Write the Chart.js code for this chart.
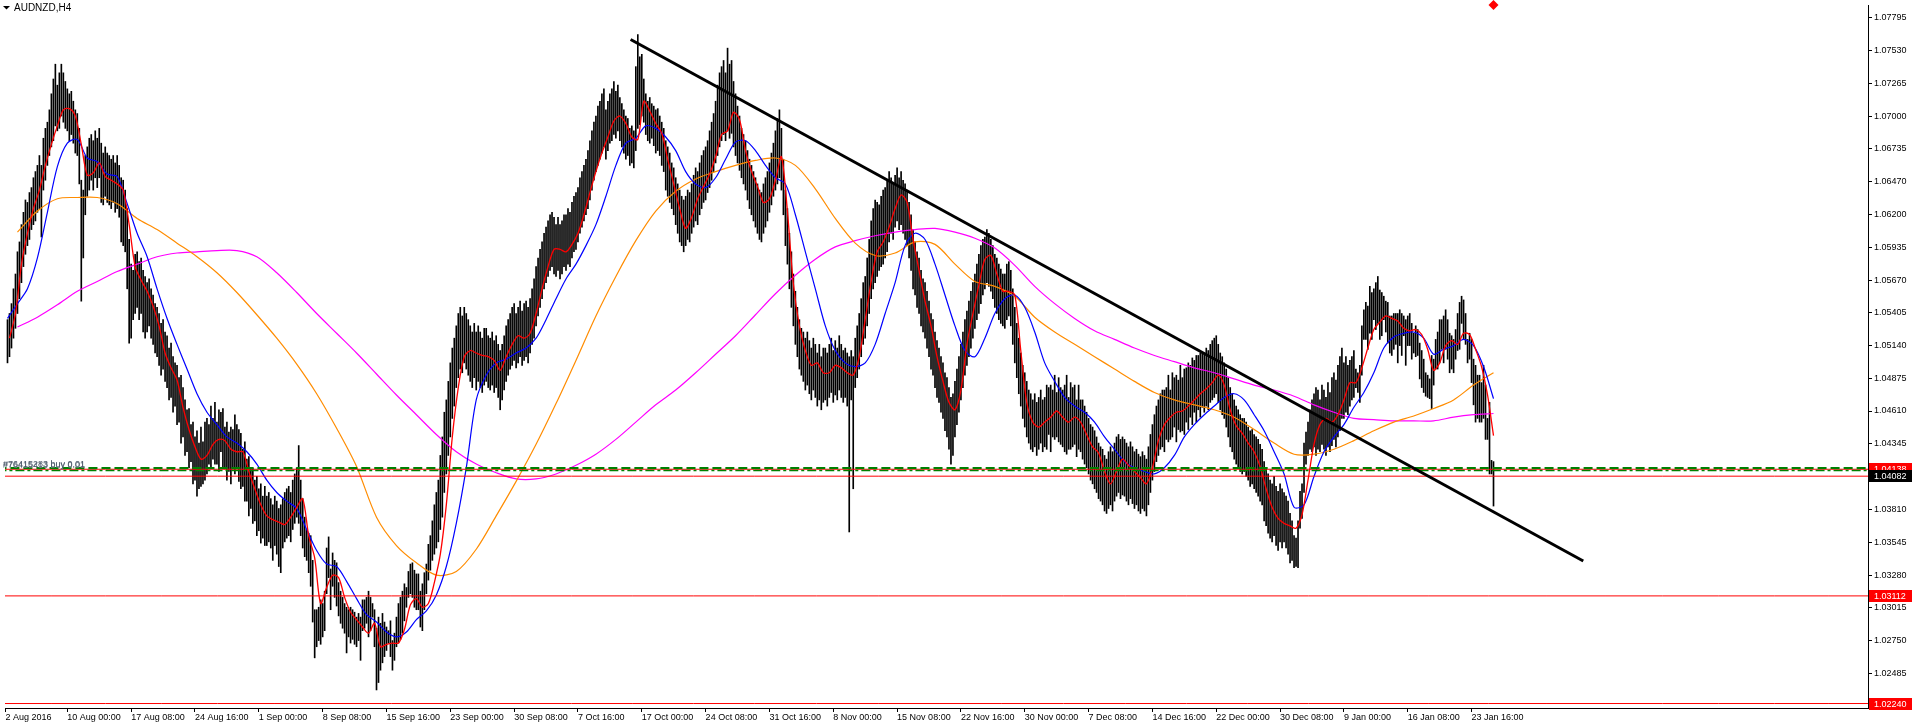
<!DOCTYPE html>
<html>
<head>
<meta charset="utf-8">
<title>AUDNZD,H4</title>
<script src="https://cdn.jsdelivr.net/npm/chart.js@4.4.1/dist/chart.umd.min.js"></script>
<style>
  html, body { margin: 0; padding: 0; background: #fff; overflow: hidden; }
  #wrap { width: 1913px; height: 723px; }
</style>
</head>
<body>
<div id="wrap"><canvas id="priceChart" width="1913" height="723"></canvas></div>
<script>
// AUDNZD H4 bars, values in pips above 1.0000 (512 -> 1.0512), one entry per bar
const lows = [
  500,505,512,520,528,540,552,565,578,588, 595,600,608,612,615,622,625,602,640,648,
  660,668,675,680,692,688,690,700,695,690, 688,680,685,678,670,668,645,550,585,620,
  635,640,648,640,650,642,650,630,628,635, 630,628,625,630,622,625,618,598,595,590,
  560,516,520,535,540,545,535,540,525,520, 525,530,520,515,508,505,498,490,495,485,
  480,470,472,460,465,450,452,435,440,425, 428,415,420,402,405,392,398,400,402,405,
  410,418,415,422,418,418,412,428,415,414, 405,412,402,414,410,415,404,398,400,388,
  388,376,382,370,372,360,364,354,358,352, 352,355,350,340,352,345,335,330,350,355,
  358,360,355,365,370,375,370,360,350,343, 340,330,319,290,261,270,275,272,278,283,
  313,326,300,319,310,303,295,289,285,281, 265,278,273,276,272,270,275,259,283,285,
  289,278,283,294,270,235,241,251,257,262, 267,273,262,251,259,270,273,276,281,291,
  302,310,313,310,302,300,300,286,283,300, 313,324,332,340,345,350,355,365,375,395,
  410,425,440,455,465,480,488,495,492,500, 495,490,485,480,488,478,485,480,476,482,
  485,480,478,482,476,480,472,462,470,478, 485,490,495,498,502,496,500,505,498,502,
  505,500,508,515,520,530,538,545,552,560, 565,570,575,578,572,570,575,568,572,578,
  575,580,578,585,590,592,598,605,610,615, 620,625,632,640,648,655,660,665,670,675,
  665,672,678,680,685,682,688,680,675,670, 665,668,660,662,658,672,690,693,700,695,
  685,680,678,682,676,670,672,668,660,655, 640,635,630,625,620,612,605,598,595,590,
  595,600,598,605,610,615,612,620,625,630, 632,638,642,648,655,662,668,675,680,685,
  680,688,682,686,675,668,662,656,650,645, 640,632,625,620,615,610,605,600,598,605,
  610,615,622,628,635,640,645,650,640,620, 595,580,560,545,530,515,505,495,490,485,
  478,482,475,470,478,472,465,470,462,468, 470,465,472,476,468,474,470,478,472,468,
  472,465,363,470,398,480,488,495,505,515, 520,530,540,552,560,565,570,575,578,580,
  585,590,598,605,600,610,615,608,612,605, 600,595,585,575,560,555,545,540,530,525,
  520,512,505,495,490,480,472,468,460,455, 445,440,430,418,425,440,450,460,470,480,
  490,498,505,512,520,528,535,540,548,555, 560,565,562,558,552,545,540,535,532,530,
  528,535,538,530,515,500,488,475,465,455, 448,440,435,430,428,432,425,430,435,428,
  432,430,442,428,440,438,440,436,434,432, 428,426,430,430,432,434,424,430,428,422,
  418,415,410,405,402,398,395,390,388,385, 380,378,382,385,380,388,392,395,390,393,
  392,388,385,390,386,382,385,380,378,382, 380,376,385,395,405,412,420,425,430,432,
  428,438,436,438,440,448,436,446,444,445, 442,452,446,456,450,460,452,462,456,464,
  460,465,462,468,470,472,475,468,462,458, 455,448,440,432,428,422,418,415,412,410,
  412,408,405,400,402,398,395,392,388,385, 372,368,362,358,355,360,352,348,355,350,
  355,350,345,338,340,334,335,334,366,374, 395,418,425,430,428,432,425,430,428,434,
  430,425,432,428,433,438,432,440,445,455, 455,460,458,465,470,472,480,476,468,490,
  519,519,511,524,519,535,527,532,519,522, 535,525,516,508,506,511,515,500,514,506,
  522,498,514,514,503,508,505,506,487,480, 476,473,472,471,463,482,495,495,500,511,
  500,511,503,492,495,492,503,510,511,532, 519,515,500,503,484,466,452,455,452,452,
  455,438,438,410,410,384
];
const highs = [
  535,540,548,560,572,590,598,612,622,632, 630,638,642,650,655,660,668,660,682,690,
  695,705,718,730,742,725,735,742,735,728, 722,718,720,712,705,702,690,648,640,668,
  675,682,685,680,688,682,690,678,670,675, 670,668,665,668,662,668,660,650,648,640,
  625,600,580,575,588,590,582,585,575,570, 565,568,560,555,548,545,540,532,535,525,
  522,512,516,505,500,498,488,490,480,470, 462,463,450,452,440,445,435,448,436,452,
  455,450,465,455,468,452,462,460,463,448, 452,444,448,446,458,450,446,443,430,436,
  422,424,414,415,405,408,398,402,392,400, 392,395,390,385,392,388,382,385,390,395,
  398,400,395,405,410,415,433,405,390,375, 365,362,360,340,300,300,302,308,305,315,
  350,359,333,346,340,338,322,315,310,305, 302,300,302,300,298,294,297,294,308,308,
  310,315,310,305,300,285,294,289,297,290, 286,283,291,275,281,294,305,310,315,321,
  318,331,337,338,332,329,329,315,321,330, 337,353,360,372,385,395,405,425,440,460,
  470,485,500,512,520,530,540,545,538,545, 540,535,530,525,532,525,530,525,520,528,
  528,522,520,525,518,522,515,510,515,522, 530,535,540,545,548,540,545,550,542,548,
  550,545,552,560,568,578,585,592,598,605, 610,615,620,622,618,612,618,612,615,620,
  620,625,622,630,635,638,642,650,655,660, 665,672,680,688,695,700,708,712,718,722,
  705,712,718,722,728,720,725,715,710,705, 700,698,690,692,688,740,766,748,750,730,
  718,712,715,710,708,705,706,700,695,690, 680,675,670,662,658,650,645,640,635,632,
  635,640,638,645,652,658,655,662,668,672, 675,680,688,695,702,712,725,735,740,745,
  735,755,742,745,728,718,708,700,690,685, 680,672,665,660,655,650,645,640,638,645,
  650,655,662,670,678,688,698,705,690,665, 640,625,605,590,572,558,545,535,528,525,
  520,525,518,512,520,515,508,515,505,512, 512,508,515,520,510,518,512,522,515,510,
  512,508,505,510,505,520,530,540,552,565, 570,585,600,615,625,632,630,628,635,640,
  642,648,655,650,645,652,658,650,655,648, 645,640,630,620,608,598,590,585,575,568,
  565,558,550,540,535,525,518,512,505,500, 492,488,480,472,475,485,495,505,515,525,
  535,542,550,558,565,572,580,588,595,600, 602,608,605,600,595,588,585,580,576,572,
  572,580,582,575,560,545,532,520,508,498, 492,485,478,475,470,475,468,472,478,470,
  472,482,480,482,478,490,476,488,480,478, 482,490,472,484,480,482,470,482,470,470,
  465,460,455,450,448,445,440,435,432,430, 425,422,428,432,428,435,440,442,438,440,
  438,435,432,436,432,428,430,426,424,428, 425,422,432,442,450,458,465,470,475,478,
  478,480,490,478,492,488,490,486,498,488, 495,496,500,498,504,502,506,506,508,508,
  508,512,510,515,518,520,522,515,508,505, 500,495,488,480,475,470,465,462,458,455,
  455,452,448,445,446,442,440,438,434,430, 420,415,410,405,402,408,400,396,402,398,
  395,392,388,378,372,360,358,372,396,402, 435,444,452,462,470,475,480,478,470,482,
  478,472,484,476,488,492,486,498,505,512, 500,505,498,502,505,510,495,492,498,530,
  543,549,546,562,557,560,565,570,559,557, 554,550,549,538,538,540,540,540,543,540,
  538,535,538,540,532,524,530,527,516,510, 503,492,490,487,506,503,519,525,535,535,
  538,543,535,524,522,519,527,540,549,554, 551,540,519,524,519,503,498,490,490,484,
  498,482,455,468,421,420
];

// moving averages (pips above 1.0000)
// red: one point every 3 bars starting at bar 1
const maRed = [
  520,540,580,605,625,640,660,677,692,705, 706,700,677,652,654,662,651,648,645,640,
  612,578,567,558,546,530,508,496,486,464, 446,432,422,425,434,438,437,430,428,428,
  412,398,385,376,373,371,369,375,383,390, 360,342,305,318,328,326,310,298,292,286,
  281,289,270,272,273,273,284,304,309,302, 305,322,345,385,440,480,505,510,508,506,
  505,502,494,505,515,522,520,524,540,560, 578,592,592,590,596,605,620,638,655,670,
  683,696,700,694,683,681,712,704,694,686, 665,645,625,609,618,633,643,653,667,685,
  688,703,697,672,655,643,630,633,648,667, 623,564,530,510,498,500,492,492,498,496,
  492,490,505,535,566,590,598,610,625,636, 630,600,575,550,530,505,485,468,462,478,
  515,540,563,584,587,572,558,558,555,510, 468,452,448,452,456,461,456,452,456,452,
  442,432,427,412,402,412,422,417,412,407, 402,415,437,450,456,460,461,465,470,475,
  479,484,490,482,462,449,443,435,428,416, 398,383,374,370,368,366,377,405,434,450,
  455,452,458,470,484,484,496,512,527,533, 538,536,534,528,526,527,523,511,494,500,
  514,518,515,524,523,511,497,474,441
];
// blue: every 5 bars from bar 0
const maBlue = [
  536,548,560,585,622,659,678,681,666,663, 653,651,629,605,586,560,536,515,495,475,
  460,450,440,435,428,418,405,395,388,382, 365,348,337,335,323,309,296,290,282,278,
  282,292,299,312,335,370,415,470,490,500, 503,508,512,520,535,552,568,580,595,612,
  635,660,678,682,692,690,683,672,655,645, 642,650,665,679,680,672,660,650,645,620,
  590,560,530,510,500,497,500,515,540,565, 595,605,600,580,555,530,510,505,520,540,
  552,555,545,525,500,485,472,465,460,452, 440,430,420,415,412,410,415,425,440,450,
  458,465,472,475,470,458,445,428,410,383, 385,408,428,440,450,464,476,492,512,521,
  524,525,520,507,511,514,519,514,497,471
];
// orange: every 10 bars from bar 5
const maOrange = [
  606,623,633,634,634,629,617,608,597,586, 573,557,539,520,499,475,447,416,375,352,
  338,328,331,349,376,404,434,467,502,538, 570,599,623,639,649,655,660,664,666,660,
  641,617,597,587,589,598,596,580,566,562, 554,537,525,515,505,495,485,476,470,466,
  462,456,446,435,426,426,430,437,445,452, 457,463,470,482,492
];
// magenta: every 10 bars from bar 5
const maMagenta = [
  529,537,547,558,566,574,580,586,589,590, 591,591,586,573,557,540,524,508,491,474,
  458,442,428,418,411,406,406,410,417,426, 438,452,466,478,492,507,522,539,556,571,
  584,594,599,603,606,608,609,606,601,593, 579,562,548,536,526,519,512,506,501,496,
  492,487,482,478,473,466,460,455,454,453, 453,453,456,458,459
];

const timeLabels = ["2 Aug 2016", "10 Aug 00:00", "17 Aug 08:00", "24 Aug 16:00", "1 Sep 00:00",
  "8 Sep 08:00", "15 Sep 16:00", "23 Sep 00:00", "30 Sep 08:00", "7 Oct 16:00", "17 Oct 00:00",
  "24 Oct 08:00", "31 Oct 16:00", "8 Nov 00:00", "15 Nov 08:00", "22 Nov 16:00", "30 Nov 00:00",
  "7 Dec 08:00", "14 Dec 16:00", "22 Dec 00:00", "30 Dec 08:00", "9 Jan 00:00", "16 Jan 08:00",
  "23 Jan 16:00"];
const timeBars = [-1, 30, 62, 94, 126, 158, 190, 222, 254, 286, 318, 350, 382, 414, 446, 478,
  510, 542, 574, 606, 638, 670, 702, 734];
const priceTicks = [1.07795, 1.07530, 1.07265, 1.07000, 1.06735, 1.06470, 1.06200, 1.05935,
  1.05670, 1.05405, 1.05140, 1.04875, 1.04610, 1.04345, 1.04075, 1.03810, 1.03545, 1.03280,
  1.03015, 1.02750, 1.02485, 1.02220];

// drawn objects
const trendBars = [312.4, 790];
const trendPrices = [1.07620, 1.03395];
const redLevels = [1.04138, 1.03112, 1.02240];
const bidPrice = 1.04082;
const orderLevels = [1.04148, 1.04127];
const orderTexts = ["#76415283 buy 0.01", "#76415413 buy 0.01"];

const toPrice = (p) => 1 + p / 10000;
const FONT = '"Liberation Sans", Arial, sans-serif';

const priceBars = lows.map((lo, i) => ({ x: i, y: [toPrice(lo), toPrice(highs[i])] }));
const maLine = (vals, start, step) => vals.map((v, k) => ({ x: start + k * step, y: toPrice(v) }));
const hLine = (price) => [{ x: -5, y: price }, { x: 940, y: price }];

function lineSet(data, color, width, order, dash) {
  return {
    type: 'line', data: data, borderColor: color, borderWidth: width,
    borderDash: dash || [], pointRadius: 0, tension: 0.3, fill: false, order: order
  };
}

const overlay = {
  id: 'overlay',
  afterDatasetsDraw(chart) {
    const ctx = chart.ctx;
    const y = chart.scales.y;
    ctx.save();
    ctx.font = '9px ' + FONT;
    ctx.fillStyle = '#6a7888';
    ctx.textBaseline = 'alphabetic';
    ctx.fillText(orderTexts[1], 3, Math.round(y.getPixelForValue(orderLevels[1])) - 3);
    ctx.fillStyle = '#4a5868';
    ctx.fillText(orderTexts[0], 3, Math.round(y.getPixelForValue(orderLevels[0])) - 1);
    ctx.restore();
  },
  afterDraw(chart) {
    const ctx = chart.ctx;
    const y = chart.scales.y;
    const area = chart.chartArea;
    ctx.save();
    // symbol caption
    ctx.fillStyle = '#000';
    ctx.beginPath();
    ctx.moveTo(3, 6); ctx.lineTo(10, 6); ctx.lineTo(6.5, 9.5); ctx.closePath(); ctx.fill();
    ctx.font = '10px ' + FONT;
    ctx.textBaseline = 'middle';
    ctx.fillText('AUDNZD,H4', 14, 8);
    // price tags on the right scale
    const tag = (price, bg) => {
      const py = Math.round(y.getPixelForValue(price));
      ctx.fillStyle = bg;
      ctx.fillRect(area.right + 1, py - 6, chart.width - area.right - 2, 12);
      ctx.fillStyle = '#fff';
      ctx.font = '9px ' + FONT;
      ctx.textAlign = 'left';
      ctx.fillText(price.toFixed(5), area.right + 6, py + 0.5);
    };
    tag(redLevels[2], '#ff0000');
    tag(redLevels[1], '#ff0000');
    tag(redLevels[0], '#ff0000');
    tag(bidPrice, '#000000');
    ctx.restore();
  }
};

const ctx = document.getElementById('priceChart').getContext('2d');
const priceChart = new Chart(ctx, {
  type: 'bar',
  data: {
    datasets: [
      {
        type: 'bar', data: priceBars, backgroundColor: '#000', borderWidth: 0,
        barThickness: 1, order: 10
      },
      lineSet(maLine(maMagenta, 5, 10), '#ff00ff', 1.2, 8),
      lineSet(maLine(maOrange, 5, 10), '#ff8c00', 1.2, 7),
      lineSet(maLine(maBlue, 0, 5), '#0000ff', 1.2, 6),
      lineSet(maLine(maRed, 1, 3), '#ff0000', 1.3, 5),
      lineSet(hLine(redLevels[0]), '#ff0000', 1, 4),
      lineSet(hLine(bidPrice), '#ff0000', 1, 4),
      lineSet(hLine(redLevels[1]), '#ff0000', 1, 4),
      lineSet(hLine(redLevels[2]), '#ff0000', 1, 4),
      lineSet(hLine(orderLevels[0]), '#008000', 2, 3, [9, 4]),
      lineSet(hLine(orderLevels[1]), '#008000', 1.5, 3, [9, 3, 3, 3]),
      {
        type: 'line', data: [{ x: trendBars[0], y: trendPrices[0] }, { x: trendBars[1], y: trendPrices[1] }],
        borderColor: '#000', borderWidth: 3, pointRadius: 0, order: 1
      },
      {
        type: 'scatter', data: [{ x: 745, y: 1.078996 }], pointStyle: 'rectRot', pointRadius: 5,
        backgroundColor: '#ff0000', borderWidth: 0, order: 0, clip: false
      }
    ]
  },
  options: {
    responsive: false,
    animation: false,
    devicePixelRatio: 1,
    events: [],
    layout: { padding: 0 },
    plugins: { legend: { display: false }, tooltip: { enabled: false } },
    scales: {
      x: {
        type: 'linear', min: -1.25, max: 932.75, position: 'bottom', offset: false,
        grid: { drawOnChartArea: false, drawTicks: true, tickLength: 4, color: '#000', offset: false },
        border: { display: true, color: '#000', width: 1 },
        ticks: {
          autoSkip: false, maxRotation: 0, align: 'start', padding: 0, color: '#000',
          font: { family: FONT, size: 9 },
          callback: (v, i) => timeLabels[i]
        },
        afterBuildTicks: (s) => { s.ticks = timeBars.map(v => ({ value: v })); },
        afterFit: (s) => { s.height = 15; s.paddingLeft = 0; s.paddingRight = 0; }
      },
      y: {
        type: 'linear', min: 1.022037, max: 1.078996, position: 'right', offset: false,
        grid: { drawOnChartArea: false, drawTicks: true, tickLength: 4, color: '#000', offset: false },
        border: { display: true, color: '#000', width: 1 },
        ticks: {
          autoSkip: false, padding: 2, color: '#000',
          font: { family: FONT, size: 9 },
          callback: (v) => v.toFixed(5)
        },
        afterBuildTicks: (s) => { s.ticks = priceTicks.map(v => ({ value: v })); },
        afterFit: (s) => { s.width = 45; s.paddingTop = 0; s.paddingBottom = 0; }
      }
    }
  },
  plugins: [overlay]
});
</script>
</body>
</html>
